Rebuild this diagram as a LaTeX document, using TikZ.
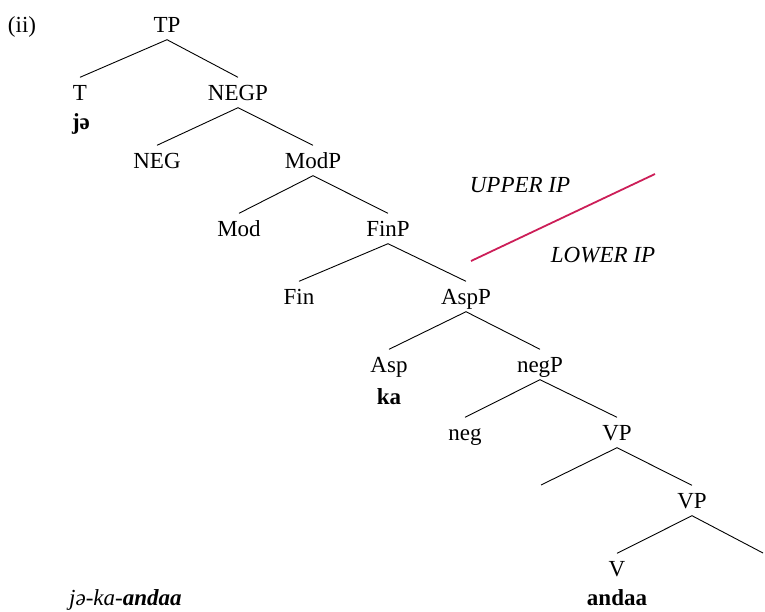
\documentclass[tikz,border=0pt]{standalone}
\usepackage{fontspec}
\setmainfont{Liberation Serif}
\definecolor{ipred}{RGB}{204,30,88}
\begin{document}
\begin{tikzpicture}[x=1pt,y=-1pt,
  every node/.style={font=\fontsize{23}{27}\selectfont},
  tn/.style={anchor=base, inner xsep=0pt, inner ysep=7.5pt, text height=15pt, text depth=0pt},
  lbl/.style={anchor=base, inner sep=0pt},
  br/.style={line width=0.9pt}]
\useasboundingbox (0,0) rectangle (765,611);
\node[lbl] (ex) at (22,32) {(ii)};
\node[tn] (TP) at (167,32) {TP};
\node[tn] (T) at (80,100) {T};
\node[lbl] (je) at (81,129) {\textbf{jə}};
\node[tn] (NEGP) at (238,100) {NEGP};
\node[tn] (NEG) at (157,168) {NEG};
\node[tn] (ModP) at (313,168) {ModP};
\node[tn] (Mod) at (239,236) {Mod};
\node[tn] (FinP) at (388,236) {FinP};
\node[tn] (Fin) at (299,304) {Fin};
\node[tn] (AspP) at (466,304) {AspP};
\node[tn] (Asp) at (389,372) {Asp};
\node[lbl] (ka) at (389,404) {\textbf{ka}};
\node[tn] (negP) at (540,372) {negP};
\node[tn] (neg) at (465,440) {neg};
\node[tn] (VP) at (617,440) {VP};
\coordinate (eL) at (541,485);
\node[tn] (VPb) at (692,508) {VP};
\node[tn] (V) at (617,576) {V};
\coordinate (eR) at (763,553);
\node[lbl] (andaa) at (617,605) {\textbf{andaa}};
\node[lbl, anchor=base west] (gloss) at (69,605) {\textit{jə-ka-}\textbf{\textit{andaa}}};
\node[lbl] (upper) at (520,192) {\textit{UPPER IP}};
\node[lbl] (lower) at (603,262) {\textit{LOWER IP}};
\coordinate (rA) at (471,261);
\coordinate (rB) at (655,174);
\draw[ipred, line width=1.8pt] (rA) -- (rB);
\draw[br] (T.north) -- (TP.south) -- (NEGP.north);
\draw[br] (NEG.north) -- (NEGP.south) -- (ModP.north);
\draw[br] (Mod.north) -- (ModP.south) -- (FinP.north);
\draw[br] (Fin.north) -- (FinP.south) -- (AspP.north);
\draw[br] (Asp.north) -- (AspP.south) -- (negP.north);
\draw[br] (neg.north) -- (negP.south) -- (VP.north);
\draw[br] (eL) -- (VP.south) -- (VPb.north);
\draw[br] (V.north) -- (VPb.south) -- (eR);
\end{tikzpicture}
\end{document}
